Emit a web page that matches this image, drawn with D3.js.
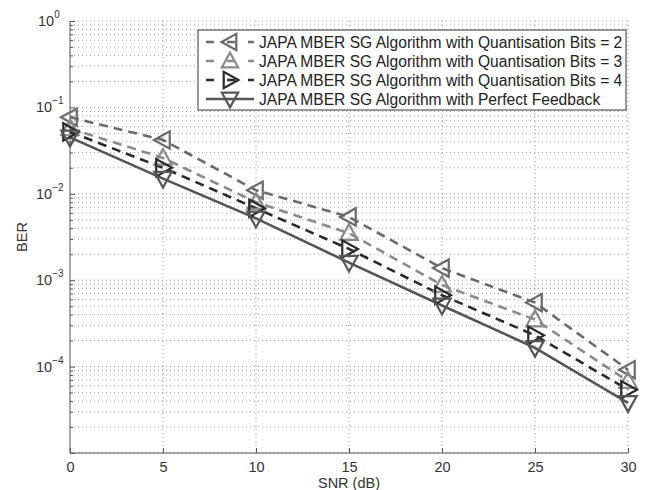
<!DOCTYPE html>
<html><head><meta charset="utf-8">
<script src="https://cdn.jsdelivr.net/npm/d3@7"></script>
<style>body{margin:0;background:#fff;} svg{display:block;} text{font-family:"Liberation Sans",Arial,sans-serif;}</style>
</head><body><svg id="c" width="647" height="490"></svg>
<script>
const snr = [0, 5, 10, 15, 20, 25, 30];
const seriesNames = [
  "JAPA MBER SG Algorithm with Quantisation Bits = 2",
  "JAPA MBER SG Algorithm with Quantisation Bits = 3",
  "JAPA MBER SG Algorithm with Quantisation Bits = 4",
  "JAPA MBER SG Algorithm with Perfect Feedback"
];
const bits2 = [0.077, 0.042, 0.011, 0.0054, 0.00138, 0.00055, 0.000092];
const bits3 = [0.057, 0.026, 0.0080, 0.0035, 0.00088, 0.00035, 0.000068];
const bits4 = [0.052, 0.020, 0.0068, 0.0023, 0.00067, 0.00023, 0.000054];
const perfect = [0.045, 0.015, 0.0052, 0.0016, 0.00051, 0.000165, 0.000038];
const xTicks = [0, 5, 10, 15, 20, 25, 30];
const yExps = [0, -1, -2, -3, -4];

const svg = d3.select("#c");
const L = 70, R = 628, T = 21, B = 453;
const x = d3.scaleLinear().domain([0, 30]).range([L, R]);
const y = d3.scaleLog().domain([1e-5, 1]).range([B, T]);

// grid
const g = svg.append("g");
const minor = [];
for (let e = -5; e < 0; e++) for (let m = 1; m <= 9; m++) minor.push(m * Math.pow(10, e));
minor.push(1);
g.selectAll("line.hy").data(minor).join("line")
  .attr("x1", L).attr("x2", R).attr("y1", d => y(d)).attr("y2", d => y(d))
  .attr("stroke", "#999").attr("stroke-width", 1).attr("stroke-dasharray", "1,3");
g.selectAll("line.vx").data(xTicks.slice(1)).join("line")
  .attr("x1", d => x(d)).attr("x2", d => x(d)).attr("y1", T).attr("y2", B)
  .attr("stroke", "#999").attr("stroke-width", 1).attr("stroke-dasharray", "1,3");

// axes
const xAxis = d3.axisBottom(x).tickValues(xTicks).tickSize(-5).tickPadding(9).tickFormat(d3.format("d"));
const gx = svg.append("g").attr("transform", `translate(0,${B})`).call(xAxis);
gx.select(".domain").attr("stroke", "#555").attr("d", `M${L},0H${R}`);
gx.selectAll(".tick line").attr("stroke", "#555");
gx.selectAll(".tick text").attr("font-size", 14.5).attr("fill", "#333").attr("font-family", "Liberation Sans, Arial, sans-serif");

const yAxis = d3.axisLeft(y).tickValues(minor).tickSize(-3).tickFormat("");
const gy = svg.append("g").attr("transform", `translate(${L},0)`).call(yAxis);
gy.select(".domain").attr("stroke", "#555").attr("d", `M0,${B}V${T}`);
gy.selectAll(".tick line").attr("stroke", "#555")
  .attr("x2", d => Math.abs(Math.log10(d) - Math.round(Math.log10(d))) < 1e-9 ? 5 : 3);

const yl = svg.append("g");
yExps.forEach(e => {
  const t = yl.append("text").attr("x", e === 0 ? 38 : 36).attr("y", y(Math.pow(10, e)) + 5)
    .attr("font-size", 14.5).attr("fill", "#333");
  t.append("tspan").text("10");
  t.append("tspan").attr("dy", -8).attr("font-size", 10).text(String(e).replace("-", "\u2212"));
});

svg.append("text").attr("x", x(15)).attr("y", 488).attr("text-anchor", "middle")
  .attr("font-size", 14.5).attr("fill", "#333").text("SNR (dB)");
svg.append("text").attr("transform", `translate(27,${(T + B) / 2}) rotate(-90)`).attr("text-anchor", "middle")
  .attr("font-size", 14.5).attr("fill", "#333").text("BER");

// series
const series = [
  {vals: bits2, color: "#6a6a6a", dash: "9,6", marker: "left", fill: "none"},
  {vals: bits3, color: "#8a8a8a", dash: "9,6", marker: "up", fill: "none"},
  {vals: bits4, color: "#2a2a2a", dash: "9,6", marker: "right", fill: "none"},
  {vals: perfect, color: "#555555", dash: null, marker: "down", fill: "none"}
];
function tri(type, s) {
  const h = s, w = s * 0.58;
  if (type === "up") return `M0,${-h*0.6}L${w},${h*0.45}L${-w},${h*0.45}Z`;
  if (type === "down") return `M0,${h*0.6}L${w},${-h*0.45}L${-w},${-h*0.45}Z`;
  if (type === "left") return `M${-h*0.6},0L${h*0.45},${w}L${h*0.45},${-w}Z`;
  return `M${h*0.6},0L${-h*0.45},${w}L${-h*0.45},${-w}Z`;
}
const line = d3.line().x((d, i) => x(snr[i])).y(d => y(d));
series.forEach(s => {
  svg.append("path").attr("d", line(s.vals)).attr("fill", "none").attr("stroke", s.color)
    .attr("stroke-width", 2.6).attr("stroke-dasharray", s.dash);
});
series.forEach(s => {
  svg.append("g").selectAll("path").data(s.vals).join("path")
    .attr("transform", (d, i) => `translate(${x(snr[i])},${y(d)})`)
    .attr("d", tri(s.marker, 15)).attr("fill", s.fill).attr("stroke", s.color).attr("stroke-width", 2.2);
});

// legend
const lg = svg.append("g");
lg.append("rect").attr("x", 198).attr("y", 30).attr("width", 428).attr("height", 80)
  .attr("fill", "#fff").attr("stroke", "#555").attr("stroke-width", 1.2);
series.forEach((s, i) => {
  const cy = 42 + i * 19;
  lg.append("line").attr("x1", 206).attr("x2", 254).attr("y1", cy).attr("y2", cy)
    .attr("stroke", s.color).attr("stroke-width", 2.6).attr("stroke-dasharray", s.dash ? "8,13" : null);
  lg.append("path").attr("transform", `translate(230,${cy})`).attr("d", tri(s.marker, 14))
    .attr("fill", s.fill).attr("stroke", s.color).attr("stroke-width", 2.2);
  lg.append("text").attr("x", 259).attr("y", cy + 5.5).attr("font-size", 15.6).attr("fill", "#222").text(seriesNames[i]);
});
</script></body></html>
